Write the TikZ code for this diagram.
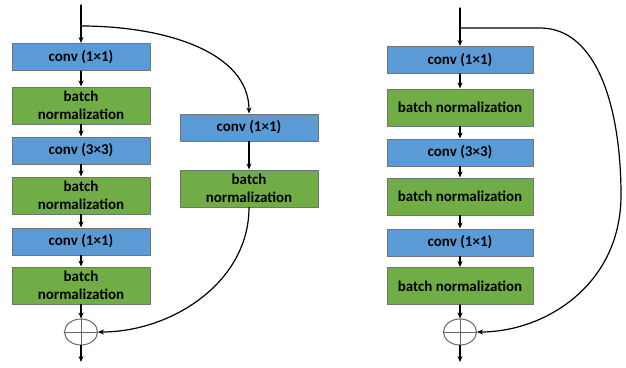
\documentclass[tikz,border=0pt]{standalone}
\usepackage{fontspec}
\setmainfont{Carlito}
\usetikzlibrary{arrows.meta,shapes.geometric}
\definecolor{convblue}{HTML}{5B9BD5}
\definecolor{bngreen}{HTML}{70AD47}
\begin{document}
\begin{tikzpicture}[x=1pt,y=-1pt,line cap=round,line join=round,line width=1.2pt,
  >={Stealth[length=6pt,width=5pt]},
  conv/.style={draw=black!55,line width=1pt,fill=convblue,minimum width=138pt,minimum height=27pt,
    inner sep=0pt,align=center,font=\bfseries\fontsize{15}{18}\selectfont},
  bn/.style={conv,fill=bngreen,minimum height=37pt},
  add/.style={draw=black!60,line width=1pt,ellipse,minimum width=33pt,minimum height=26pt,inner sep=0pt}]
  \useasboundingbox (0,0) rectangle (626,367);
  % bottleneck with projection shortcut
  \coordinate (in1) at (81,5); \coordinate (b1) at (81,26); \coordinate (out1) at (81,362);
  \node[conv] (c11) at (81,57) {conv (1×1)};
  \node[bn] (n11) at (81,105.5) {batch\\normalization};
  \node[conv] (c12) at (81,150.5) {conv (3×3)};
  \node[bn] (n12) at (81,195.5) {batch\\normalization};
  \node[conv] (c13) at (81,241.5) {conv (1×1)};
  \node[bn] (n13) at (81,285.5) {batch\\normalization};
  \node[add] (a1) at (81,332) {};
  \node[conv] (pc) at (249,127.5) {conv (1×1)};
  \node[bn] (pn) at (249,188.5) {batch\\normalization};
  \draw[->] (in1) -- (c11);
  \draw[->] (c11) -- (n11); \draw[->] (n11) -- (c12); \draw[->] (c12) -- (n12);
  \draw[->] (n12) -- (c13); \draw[->] (c13) -- (n13); \draw[->] (n13) -- (a1);
  \draw[black!60,line width=1pt] (a1.north) -- (a1.south) (a1.west) -- (a1.east);
  \draw[->] (a1.south) -- (out1);
  \draw[->] (b1) .. controls (165,26) and (249,52) .. (pc.north);
  \draw[->] (pc) -- (pn);
  \draw[->] (pn.south) .. controls (249,282) and (172,332) .. (a1.east);
  % bottleneck with identity shortcut
  \coordinate (in2) at (460,8); \coordinate (b2) at (460,28); \coordinate (out2) at (460,362);
  \coordinate (s1) at (540,28); \coordinate (s2) at (621,195);
  \node[conv,minimum width=146pt] (c21) at (460,60) {conv (1×1)};
  \node[bn,minimum width=146pt] (n21) at (460,107.5) {batch normalization};
  \node[conv,minimum width=146pt] (c22) at (460,152.5) {conv (3×3)};
  \node[bn,minimum width=146pt] (n22) at (460,196.5) {batch normalization};
  \node[conv,minimum width=146pt] (c23) at (460,242.5) {conv (1×1)};
  \node[bn,minimum width=146pt] (n23) at (460,286) {batch normalization};
  \node[add] (a2) at (460,332) {};
  \draw[->] (in2) -- (c21);
  \draw[->] (c21) -- (n21); \draw[->] (n21) -- (c22); \draw[->] (c22) -- (n22);
  \draw[->] (n22) -- (c23); \draw[->] (c23) -- (n23); \draw[->] (n23) -- (a2);
  \draw[black!60,line width=1pt] (a2.north) -- (a2.south) (a2.west) -- (a2.east);
  \draw[->] (a2.south) -- (out2);
  \draw[->] (b2) -- (s1) .. controls (598,28) and (621,110) .. (s2)
    .. controls (621,285) and (545,332) .. (a2.east);
\end{tikzpicture}
\end{document}
